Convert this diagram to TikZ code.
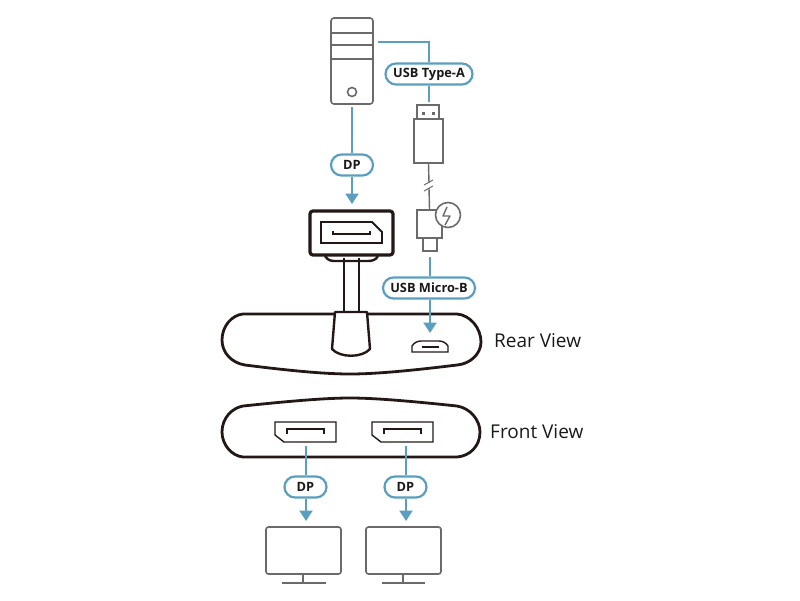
\documentclass[tikz,border=0pt]{standalone}
\usepackage{fontspec}
\setmainfont{Open Sans}
\usepackage{color}
\usetikzlibrary{calc,arrows.meta}
\definecolor{linkblue}{HTML}{5A9FBF}
\definecolor{devgray}{HTML}{6A6A6A}
\definecolor{bodyblack}{HTML}{231815}
\tikzset{
  pill/.style={draw=linkblue,line width=2.2pt,fill=white,rounded corners=10.5pt,inner sep=0pt,minimum height=21pt,font=\fontsize{12.8}{14}\selectfont\bfseries,text=black!90},
  link/.style={draw=linkblue,line width=2.5pt},
  linkarrow/.style={link,-{Triangle[width=13pt,length=10.5pt]}},
  device/.style={draw=devgray,line width=1.6pt,fill=white,inner sep=0pt},
  cable/.style={draw=devgray,line width=1.4pt},
  port/.style={draw=bodyblack,line width=1.4pt},
  housing/.style={draw=bodyblack,line width=2.8pt,line join=round},
  viewlabel/.style={inner sep=0pt,font=\fontsize{19}{22}\selectfont,text=black!90,anchor=west}
}
\begin{document}
\begin{tikzpicture}[x=1pt,y=-1pt]
  \useasboundingbox (0,0) rectangle (800,600);
  % housings
  \draw[housing] (243,314) -- (457,314) .. controls (470,315) and (481,328) .. (481,342)
     .. controls (481,354) and (470,364) .. (457,365) .. controls (400,372) and (370,374) .. (350,374)
     .. controls (330,374) and (300,372) .. (245,365) .. controls (232,363) and (222,353) .. (222,340)
     .. controls (222,326) and (232,315) .. (243,314) -- cycle;
  \draw[housing] (243,406) .. controls (300,400) and (330,398) .. (350,398)
     .. controls (370,398) and (400,400) .. (457,406) .. controls (470,408) and (480,420) .. (480,432)
     .. controls (480,446) and (470,456) .. (457,457) -- (243,457)
     .. controls (232,456) and (222,445) .. (222,432) .. controls (222,418) and (232,408) .. (243,406) -- cycle;
  % dongle
  \draw[housing,line width=2.6pt] (344,258) -- (344,312);
  \draw[housing,line width=2.6pt] (359,258) -- (359,312);
  \draw[housing,line width=2.4pt,fill=white] (335,312) -- (367,312) -- (370,349) .. controls (362,358) and (340,358) .. (332,349) -- cycle;
  \draw[housing,line width=2.4pt] (325,256) .. controls (328,261) and (332,261) .. (336,261) -- (368,261) .. controls (372,261) and (376,260) .. (378,256);
  \node[draw=bodyblack,line width=3.2pt,rounded corners=3pt,minimum width=83pt,minimum height=44pt,inner sep=0pt,fill=white](dongle)at(351.5,233){};
  \draw[port,line width=1.8pt] (321,222) -- (372,222) -- (382,232) -- (382,243) -- (321,243) -- cycle;
  \draw[port,line width=1.6pt] (333,231) -- (333,234) -- (370,234) -- (370,231);
  % tower
  \node[device,rounded corners=3pt,minimum width=42pt,minimum height=86pt](tower)at(352,61){};
  \draw[device] (tower.west |- 0,33) -- (tower.east |- 0,33);
  \draw[device] (tower.west |- 0,45) -- (tower.east |- 0,45);
  \draw[device] (tower.west |- 0,59) -- (tower.east |- 0,59);
  \node[device,circle,minimum size=9pt](button)at(352,92){};
  % usb cable
  \node[device,minimum width=22pt,minimum height=14pt](plugtip)at(428,112){};
  \fill[devgray] (421.5,111.5) rectangle (424.5,114.5);
  \fill[devgray] (431.5,111.5) rectangle (434.5,114.5);
  \node[device,minimum width=29pt,minimum height=44pt](plugbody)at(428.5,141){};
  \node[device,minimum width=14pt,minimum height=13pt](microtip)at(430,244.5){};
  \node[device,minimum width=25pt,minimum height=28pt](microbody)at(429.5,224){};
  \node[device,circle,minimum size=25pt](power)at(448,215){};
  \draw[cable,line join=round] (447,207) -- (443,216) -- (450,216) -- (445,225);
  \coordinate (breaktop) at (429,183);
  \coordinate (breakbot) at (429,188);
  \draw[cable] (plugbody.south) -- (breaktop);
  \draw[cable] (breakbot) -- (microbody.north);
  \draw[cable,line width=1pt] (424,185) -- (433,180);
  \draw[cable,line width=1pt] (424,191) -- (433,186);
  % ports
  \draw[port] (412,352) -- (412,346) .. controls (414,343) and (417,341) .. (421,341) -- (439,341) .. controls (443,341) and (446,343) .. (448,346) -- (448,352) -- cycle;
  \draw[port] (422,347) -- (439,347);
  \draw[port] (275,422) -- (336,422) -- (336,442) -- (284,442) -- (275,435) -- cycle;
  \draw[port] (287,434) -- (287,429) -- (324,429) -- (324,434);
  \draw[port] (372,422) -- (433,422) -- (433,442) -- (381,442) -- (372,435) -- cycle;
  \draw[port] (384,434) -- (384,429) -- (421,429) -- (421,434);
  % monitors
  \node[device,rounded corners=2.5pt,minimum width=75pt,minimum height=47pt](leftmon)at(303.5,550.5){};
  \node[device,rounded corners=2.5pt,minimum width=75pt,minimum height=47pt](rightmon)at(403.5,550.5){};
  \draw[device] (303,574) -- (303,583);
  \draw[device] (282,583) -- (326,583);
  \draw[device] (403,574) -- (403,583);
  \draw[device] (382,583) -- (425,583);
  % link ends
  \coordinate (usbout) at (378,42);
  \coordinate (usbcorner) at (429,42);
  \coordinate (usbplug) at (429,102);
  \coordinate (dpout) at (352,107);
  \coordinate (dpin) at (352,204);
  \coordinate (microout) at (430,257);
  \coordinate (microin) at (430,333);
  \coordinate (leftout) at (306,446);
  \coordinate (leftin) at (306,521);
  \coordinate (rightout) at (406,446);
  \coordinate (rightin) at (406,521);
  % pills
  \node[pill,minimum width=87pt](typea)at(429,74){USB Type-A};
  \node[pill,minimum width=92pt](microb)at(429,288){USB Micro-B};
  \node[pill,minimum width=42pt](dptop)at(352,165){DP};
  \node[pill,minimum width=42pt](dpleft)at(305.5,487){DP};
  \node[pill,minimum width=42pt](dpright)at(405.5,487){DP};
  % links
  \draw[link] (usbout) -- (usbcorner) -- (usbcorner |- typea.north);
  \draw[link] (usbcorner |- typea.south) -- (usbplug);
  \draw[link] (dpout) -- (dpout |- dptop.north);
  \draw[linkarrow] (dpin |- dptop.south) -- (dpin);
  \draw[link] (microout) -- (microout |- microb.north);
  \draw[linkarrow] (microin |- microb.south) -- (microin);
  \draw[link] (leftout) -- (leftout |- dpleft.north);
  \draw[linkarrow] (leftin |- dpleft.south) -- (leftin);
  \draw[link] (rightout) -- (rightout |- dpright.north);
  \draw[linkarrow] (rightin |- dpright.south) -- (rightin);
  % view names
  \node[viewlabel](rearname)at(494,341){Rear View};
  \node[viewlabel](frontname)at(490,432){Front View};
\end{tikzpicture}
\end{document}
